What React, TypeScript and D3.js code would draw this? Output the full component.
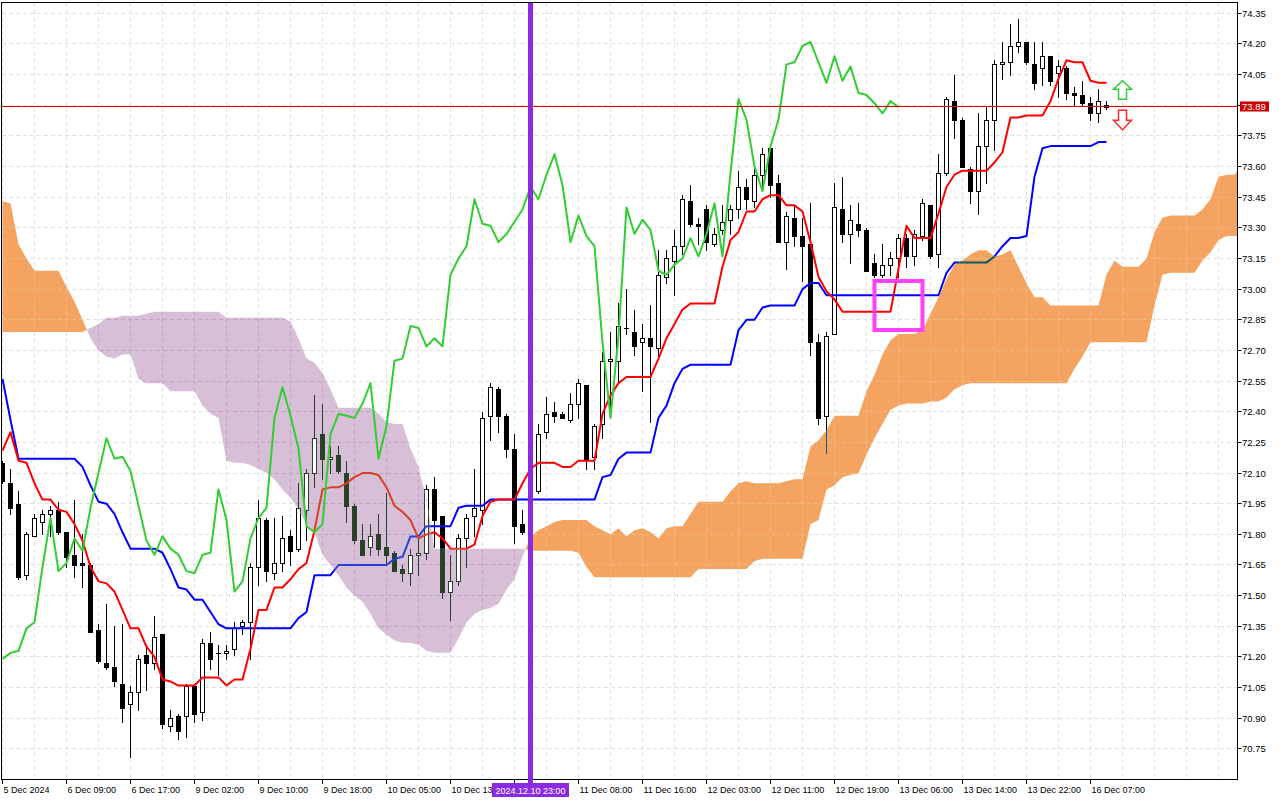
import React from "react";
import * as d3 from "d3";

// ---------- data (hourly bars, index 0 = 5 Dec) ----------
const opens = [
  72.15,72.05,71.95,71.60,71.79,71.86,71.90,71.92,71.81,71.70,
  71.66,71.65,71.33,71.17,71.15,71.07,70.97,71.03,71.21,71.17,
  71.31,70.86,70.91,70.91,71.06,70.93,71.27,71.22,71.22,71.24,
  71.35,71.37,71.64,71.87,71.61,71.66,71.79,71.73,71.92,72.10,
  72.29,72.17,72.19,72.10,71.94,71.77,71.74,71.80,71.74,71.71,
  71.63,71.61,71.70,71.71,72.02,71.89,71.52,71.57,71.78,71.89,
  71.92,72.38,72.51,72.38,72.22,71.85,71.81,72.01,72.30,72.40,
  72.39,72.36,72.44,72.53,72.18,72.34,72.65,72.65,72.81,72.79,
  72.74,72.76,72.71,73.06,73.14,73.21,73.43,73.32,73.39,73.22,
  73.29,73.34,73.39,73.50,73.43,73.56,73.69,73.52,73.23,73.35,
  73.26,73.22,72.74,72.38,72.78,73.39,73.27,73.32,73.29,73.13,
  73.07,73.12,73.15,73.25,73.16,73.26,73.41,73.17,73.57,73.92,
  73.83,73.59,73.48,73.70,73.83,74.10,74.11,74.19,74.21,74.10,
  74.08,74.14,74.06,74.08,73.96,73.95,73.91,73.86,73.90,
];
const highs = [
  72.16,72.12,72.01,71.81,71.90,71.92,71.94,71.96,71.81,71.97,
  71.80,71.66,71.36,71.46,71.35,71.36,71.06,71.21,71.25,71.40,
  71.31,70.94,70.92,71.07,71.07,71.29,71.32,71.26,71.26,71.37,
  71.38,71.66,71.97,71.88,71.88,71.89,71.82,72.05,72.12,72.48,
  72.44,72.23,72.23,72.16,71.95,71.85,71.85,71.90,72.00,71.72,
  71.65,71.73,71.78,72.04,72.08,71.89,71.70,71.80,71.90,72.12,
  72.40,72.54,72.52,72.39,72.29,71.92,71.95,72.34,72.47,72.45,
  72.40,72.49,72.56,72.53,72.34,72.69,72.79,72.93,73.00,72.90,
  72.83,72.92,73.19,73.19,73.29,73.46,73.51,73.35,73.41,73.30,
  73.41,73.41,73.58,73.54,73.61,73.69,73.69,73.56,73.38,73.41,
  73.35,73.42,72.78,72.79,73.52,73.55,73.41,73.42,73.30,73.17,
  73.22,73.18,73.27,73.27,73.29,73.44,73.41,73.66,73.94,74.05,
  73.84,73.60,73.86,73.89,74.12,74.21,74.30,74.32,74.21,74.21,
  74.21,74.14,74.12,74.09,73.99,74.02,73.94,73.98,73.92,
];
const lows = [
  72.05,71.90,71.58,71.58,71.79,71.80,71.79,71.80,71.64,71.59,
  71.54,71.32,71.17,71.14,71.06,70.88,70.71,70.94,71.04,71.14,
  70.85,70.84,70.80,70.81,70.88,70.89,71.14,71.11,71.19,71.21,
  71.31,71.19,71.55,71.57,71.58,71.62,71.65,71.72,71.77,72.03,
  72.07,72.10,72.10,71.86,71.76,71.70,71.70,71.70,71.65,71.62,
  71.57,71.55,71.60,71.68,71.74,71.49,71.38,71.55,71.64,71.79,
  71.85,72.26,72.30,72.18,71.76,71.80,71.78,72.00,72.27,72.35,
  72.37,72.35,72.37,72.12,72.12,72.27,72.38,72.54,72.78,72.68,
  72.50,72.35,72.66,73.03,72.97,73.17,73.31,73.22,73.19,73.21,
  73.27,73.27,73.35,73.39,73.40,73.50,73.45,73.23,73.10,73.21,
  73.04,72.68,72.34,72.20,72.78,73.23,73.13,73.26,73.09,73.06,
  73.06,73.07,73.06,73.11,73.12,73.24,73.15,73.11,73.56,73.74,
  73.60,73.42,73.37,73.52,73.68,74.03,74.05,74.16,74.10,73.98,
  74.00,74.00,73.94,73.93,73.90,73.90,73.83,73.82,73.88,
];
const closes = [
  72.06,71.93,71.59,71.80,71.88,71.90,71.92,71.81,71.69,71.65,
  71.65,71.32,71.18,71.15,71.08,70.95,71.03,71.19,71.17,71.30,
  70.87,70.90,70.84,71.06,70.92,71.27,71.19,71.22,71.23,71.34,
  71.37,71.64,71.88,71.62,71.66,71.78,71.72,71.93,72.10,72.27,
  72.17,72.18,72.11,71.94,71.77,71.70,71.79,71.73,71.70,71.62,
  71.61,71.70,71.71,72.02,71.87,71.52,71.57,71.78,71.88,71.93,
  72.37,72.52,72.38,72.22,71.84,71.81,71.85,72.29,72.39,72.38,
  72.37,72.44,72.54,72.17,72.33,72.65,72.66,72.82,72.81,72.72,
  72.76,72.72,73.07,73.15,73.21,73.44,73.32,73.31,73.23,73.27,
  73.33,73.39,73.50,73.44,73.56,73.66,73.51,73.23,73.36,73.26,
  73.21,72.74,72.37,72.77,73.40,73.27,73.34,73.29,73.09,73.07,
  73.12,73.15,73.25,73.16,73.27,73.42,73.16,73.57,73.93,73.83,
  73.60,73.48,73.70,73.83,74.10,74.11,74.19,74.21,74.11,74.01,
  74.14,74.02,74.09,73.96,73.95,73.91,73.86,73.92,73.89,
];
const tenkan = [
  72.21,72.30,72.16,72.15,72.05,71.97,71.97,71.92,71.91,71.85,
  71.77,71.64,71.57,71.56,71.52,71.43,71.34,71.34,71.25,71.20,
  71.09,71.08,71.06,71.06,71.06,71.10,71.10,71.10,71.06,71.09,
  71.09,71.24,71.43,71.43,71.54,71.54,71.58,71.63,71.66,71.82,
  72.02,72.03,72.03,72.05,72.08,72.10,72.10,72.09,72.03,71.94,
  71.91,71.87,71.78,71.80,71.81,71.78,71.73,71.73,71.73,71.75,
  71.89,71.96,71.97,71.97,71.97,72.05,72.12,72.15,72.15,72.15,
  72.13,72.13,72.16,72.16,72.16,72.39,72.48,72.54,72.57,72.57,
  72.57,72.57,72.66,72.76,72.83,72.90,72.93,72.93,72.93,72.93,
  73.11,73.24,73.28,73.38,73.38,73.44,73.46,73.46,73.41,73.41,
  73.38,73.23,73.06,72.99,72.95,72.89,72.89,72.89,72.89,72.89,
  72.89,72.89,73.10,73.31,73.25,73.25,73.25,73.37,73.50,73.56,
  73.58,73.58,73.58,73.58,73.62,73.67,73.84,73.84,73.85,73.85,
  73.85,73.92,74.03,74.12,74.11,74.11,74.02,74.01,74.01,
];
const kijun = [
  72.56,72.36,72.17,72.17,72.17,72.17,72.17,72.17,72.17,72.17,
  72.13,72.04,71.96,71.95,71.90,71.81,71.73,71.73,71.73,71.73,
  71.71,71.63,71.54,71.53,71.48,71.48,71.42,71.36,71.34,71.34,
  71.34,71.34,71.34,71.34,71.34,71.34,71.34,71.39,71.42,71.60,
  71.60,71.60,71.65,71.65,71.65,71.65,71.65,71.65,71.65,71.68,
  71.69,71.79,71.79,71.84,71.84,71.84,71.84,71.93,71.94,71.94,
  71.94,71.97,71.97,71.97,71.97,71.97,71.97,71.97,71.97,71.97,
  71.97,71.97,71.97,71.97,71.97,72.08,72.09,72.17,72.20,72.20,
  72.20,72.20,72.37,72.43,72.54,72.61,72.63,72.63,72.63,72.63,
  72.63,72.63,72.80,72.85,72.85,72.91,72.92,72.92,72.92,72.92,
  73.00,73.03,73.03,72.97,72.97,72.97,72.97,72.97,72.97,72.97,
  72.97,72.97,72.97,72.97,72.97,72.97,72.97,72.97,73.08,73.13,
  73.13,73.13,73.13,73.13,73.16,73.21,73.25,73.25,73.26,73.55,
  73.69,73.70,73.70,73.70,73.70,73.70,73.70,73.72,73.72,
];
// Senkou spans as plotted (already shifted 26 bars forward)
const spanA = [
  73.43,73.42,73.22,73.15,73.09,73.09,73.09,73.09,73.01,72.94,
  72.85,72.76,72.70,72.67,72.66,72.68,72.68,72.56,72.54,72.54,
  72.54,72.50,72.50,72.50,72.50,72.43,72.39,72.37,72.16,72.15,
  72.15,72.14,72.12,72.10,72.07,72.02,71.98,71.92,71.85,71.81,
  71.70,71.65,71.60,71.54,71.50,71.47,71.41,71.34,71.31,71.28,
  71.27,71.27,71.26,71.23,71.22,71.22,71.22,71.29,71.37,71.41,
  71.43,71.44,71.46,71.53,71.58,71.69,71.79,71.82,71.84,71.86,
  71.87,71.87,71.87,71.87,71.84,71.82,71.80,71.83,71.79,71.82,
  71.83,71.81,71.78,71.83,71.84,71.84,71.90,71.96,71.96,71.96,
  71.96,72.01,72.05,72.06,72.05,72.05,72.05,72.05,72.06,72.07,
  72.07,72.23,72.26,72.31,72.38,72.38,72.38,72.38,72.50,72.58,
  72.68,72.75,72.78,72.78,72.78,72.80,72.88,72.96,73.05,73.12,
  73.14,73.17,73.19,73.19,73.16,73.17,73.19,73.11,73.03,72.96,
  72.96,72.92,72.92,72.92,72.92,72.92,72.92,72.92,73.07,73.14,
  73.11,73.11,73.11,73.15,73.28,73.35,73.36,73.36,73.36,73.36,
  73.39,73.44,73.55,73.56,73.56,73.61,
];
const spanB = [
  72.79,72.79,72.79,72.79,72.79,72.79,72.79,72.79,72.79,72.79,
  72.79,72.81,72.83,72.86,72.86,72.87,72.87,72.87,72.88,72.89,
  72.89,72.89,72.89,72.89,72.89,72.89,72.89,72.89,72.86,72.86,
  72.86,72.86,72.86,72.86,72.86,72.86,72.84,72.76,72.66,72.64,
  72.59,72.51,72.42,72.42,72.42,72.42,72.42,72.39,72.35,72.34,
  72.34,72.22,72.13,71.97,71.73,71.73,71.73,71.73,71.73,71.73,
  71.73,71.73,71.73,71.73,71.73,71.73,71.72,71.72,71.72,71.72,
  71.72,71.72,71.71,71.64,71.59,71.59,71.59,71.59,71.59,71.59,
  71.59,71.59,71.59,71.59,71.59,71.59,71.59,71.63,71.63,71.63,
  71.63,71.63,71.63,71.63,71.67,71.68,71.68,71.68,71.68,71.68,
  71.68,71.85,71.87,72.02,72.04,72.08,72.09,72.10,72.19,72.27,
  72.34,72.41,72.43,72.44,72.44,72.44,72.45,72.45,72.47,72.51,
  72.53,72.54,72.54,72.54,72.54,72.54,72.54,72.54,72.54,72.54,
  72.54,72.54,72.54,72.54,72.61,72.67,72.74,72.74,72.74,72.74,
  72.74,72.74,72.74,72.74,72.92,73.07,73.08,73.08,73.08,73.08,
  73.14,73.18,73.24,73.26,73.26,73.26,
];
const chikouShift = 26;
const timeLabels = [
  "5 Dec 2024","6 Dec 09:00","6 Dec 17:00","9 Dec 02:00","9 Dec 10:00","9 Dec 18:00",
  "10 Dec 05:00","10 Dec 13:00","10 Dec 21:00","11 Dec 08:00","11 Dec 16:00","12 Dec 03:00",
  "12 Dec 11:00","12 Dec 19:00","13 Dec 06:00","13 Dec 14:00","13 Dec 22:00","16 Dec 07:00",
];
const timeLabelStep = 8;
const priceTicks = d3.range(0, 25).map((i) => +(70.75 + i * 0.15).toFixed(2));
const bidPrice = 73.894;
const markerBar = 66;
const markerLabel = "2024.12.10 23:00";
const boxBars = [109, 115];
const boxPrices = [73.04, 72.8];
const arrowBar = 140;
const arrowUpPrice = 74.02;
const arrowDownPrice = 73.78;

// ---------- layout ----------
const W = 1280;
const H = 800;
const L = 2, T = 3, R = 1237, B = 779;
const FONT = "'Liberation Sans', Arial, sans-serif";
const TIME_FS = 9;
const PRICE_FS = 9.5;

const x = d3.scaleLinear().domain([0, 1]).range([2.5, 10.5]);
const y = d3.scaleLinear().domain([70.75, 74.35]).range([748.9, 13.3]);

const UP = "#f4a460";
const DN = "#d8bfd8";
const xorC = (c: string, cloud: string) => {
  const a = d3.rgb(c), b = d3.rgb(cloud);
  return d3.rgb(a.r ^ (255 - b.r), a.g ^ (255 - b.g), a.b ^ (255 - b.b)).formatHex();
};
const base = { grid: "#e0e0e0", ink: "#000000", tenkan: "#ff0000", kijun: "#0000ff" };
const mkPal = (cloud: string | null) => ({
  bg: cloud,
  grid: cloud ? xorC(base.grid, cloud) : base.grid,
  ink: cloud ? xorC(base.ink, cloud) : base.ink,
  tenkan: cloud ? xorC(base.tenkan, cloud) : base.tenkan,
  kijun: cloud ? xorC(base.kijun, cloud) : base.kijun,
  bull: "#ffffff",
});

function cloudPaths() {
  const up: string[] = [], dn: string[] = [];
  type P = { x: number; a: number; b: number };
  const toPath = (pts: P[]) =>
    "M" + pts.map((p) => `${p.x},${y(p.a)}`).join("L") +
    "L" + pts.slice().reverse().map((p) => `${p.x},${y(p.b)}`).join("L") + "Z";
  let sign = spanA[0] >= spanB[0];
  let cur: P[] = [{ x: x(0), a: spanA[0], b: spanB[0] }];
  for (let k = 1; k < spanA.length; k++) {
    const s = spanA[k] >= spanB[k];
    if (s !== sign) {
      const d0 = spanA[k - 1] - spanB[k - 1], d1 = spanA[k] - spanB[k];
      const t = d0 / (d0 - d1);
      const pi = spanA[k - 1] + t * (spanA[k] - spanA[k - 1]);
      const ip = { x: x(k - 1 + t), a: pi, b: pi };
      cur.push(ip);
      (sign ? up : dn).push(toPath(cur));
      cur = [ip];
      sign = s;
    }
    cur.push({ x: x(k), a: spanA[k], b: spanB[k] });
  }
  (sign ? up : dn).push(toPath(cur));
  return { up: up.join(""), dn: dn.join("") };
}
const clouds = cloudPaths();

const lineGen = d3.line<number>().x((_, i) => x(i)).y((d) => y(d));
const chikouGen = d3.line<number>().x((_, i) => x(i)).y((d) => y(d));

const vGrid = d3.range(0, 39).map((m) => x(m * 4));
const hGrid = priceTicks.map((p) => Math.floor(y(p)) + 0.5);

let measureCtx: CanvasRenderingContext2D | null = null;
function textWidth(s: string, fs: number) {
  if (!measureCtx && typeof document !== "undefined") {
    measureCtx = document.createElement("canvas").getContext("2d");
  }
  if (measureCtx) {
    measureCtx.font = `${fs}px 'Liberation Sans', Arial, sans-serif`;
    return measureCtx.measureText(s).width;
  }
  return s.length * fs * 0.55;
}

function Layer({ pal }: { pal: ReturnType<typeof mkPal> }) {
  return (
    <g>
      {pal.bg && <rect x={0} y={0} width={W} height={H} fill={pal.bg} />}
      <g stroke={pal.grid} strokeWidth={1} strokeDasharray="4,3" shapeRendering="crispEdges">
        {vGrid.map((gx, i) => (
          <line key={"v" + i} x1={gx} x2={gx} y1={T} y2={B} />
        ))}
        {hGrid.map((gy, i) => (
          <line key={"h" + i} x1={L} x2={R} y1={gy} y2={gy} />
        ))}
      </g>
      <g>
        {opens.map((o, k) => {
          const cx = x(k);
          const c = closes[k];
          const top = Math.round(y(Math.max(o, c)));
          const bot = Math.round(y(Math.min(o, c)));
          const bull = c >= o;
          return (
            <g key={k}>
              <line x1={cx} x2={cx} y1={Math.round(y(highs[k]))} y2={Math.round(y(lows[k])) + 1} stroke={pal.ink} strokeWidth={1} />
              {bot - top < 1 ? (
                <line x1={cx - 2.5} x2={cx + 2.5} y1={top + 0.5} y2={top + 0.5} stroke={pal.ink} strokeWidth={1} />
              ) : (
                <rect x={cx - 2} y={top + 0.5} width={4} height={bot - top} fill={bull ? pal.bull : pal.ink} stroke={pal.ink} strokeWidth={1} />
              )}
            </g>
          );
        })}
      </g>
      <path d={lineGen(kijun) || ""} fill="none" stroke={pal.kijun} strokeWidth={2} strokeLinejoin="round" />
      <path d={lineGen(tenkan) || ""} fill="none" stroke={pal.tenkan} strokeWidth={2} strokeLinejoin="round" />
    </g>
  );
}

export default function App() {
  const last = closes[closes.length - 1];
  const yLast = Math.round(y(bidPrice)) + 0.5;
  const ax = x(arrowBar);
  const yu = y(arrowUpPrice);
  const yd = y(arrowDownPrice);
  const upArrow = `M${ax},${yu} L${ax + 9},${yu + 8.6} L${ax + 4},${yu + 8.6} L${ax + 4},${yu + 18.6} L${ax - 4},${yu + 18.6} L${ax - 4},${yu + 8.6} L${ax - 9},${yu + 8.6} Z`;
  const dnArrow = `M${ax},${yd} L${ax + 9},${yd - 9.4} L${ax + 4},${yd - 9.4} L${ax + 4},${yd - 19.4} L${ax - 4},${yd - 19.4} L${ax - 4},${yd - 9.4} L${ax - 9},${yd - 9.4} Z`;
  const mx = x(markerBar);
  const mBoxL = mx - 38.5;
  const mBoxR = mx + 38.5;
  const markerTextL = mx - textWidth(markerLabel, TIME_FS) / 2;

  // time labels: those fully under the marker box are hidden; the one running into it is cut at its edge
  const timeItems = timeLabels.map((t, i) => {
    const tx = x(i * timeLabelStep);
    const start = tx + 1;
    let s = t;
    if (start >= mBoxL - 2 && start <= mBoxR) s = "";
    else if (start < mBoxL && start + textWidth(s, TIME_FS) > mBoxL) {
      while (s.length && start + textWidth(s, TIME_FS) > Math.min(mBoxL + 1, markerTextL - 1)) {
        s = s.slice(0, -1);
      }
    }
    return { tx, start, s: s.trimEnd() };
  });

  return (
    <svg width={W} height={H} style={{ position: "fixed", left: 0, top: 0, background: "#fff" }} fontFamily={FONT}>
      <defs>
        <clipPath id="plotClip">
          <rect x={L} y={T} width={R - L} height={B - T} />
        </clipPath>
        <clipPath id="cloudUp">
          <path d={clouds.up} />
        </clipPath>
        <clipPath id="cloudDn">
          <path d={clouds.dn} />
        </clipPath>
      </defs>
      <rect x={0} y={0} width={W} height={H} fill="#fff" />
      <g clipPath="url(#plotClip)">
        <Layer pal={mkPal(null)} />
        <g clipPath="url(#cloudDn)">
          <Layer pal={mkPal(DN)} />
        </g>
        <g clipPath="url(#cloudUp)">
          <Layer pal={mkPal(UP)} />
        </g>
        <path
          d={chikouGen(closes.slice(chikouShift)) || ""}
          fill="none"
          stroke="#32cd32"
          strokeWidth={2}
          strokeLinejoin="round"
        />
        <line x1={L} x2={R} y1={yLast} y2={yLast} stroke="#e00000" strokeWidth={1} shapeRendering="crispEdges" />
        <rect
          x={x(boxBars[0])}
          y={y(boxPrices[0])}
          width={x(boxBars[1]) - x(boxBars[0])}
          height={y(boxPrices[1]) - y(boxPrices[0])}
          fill="none"
          stroke="#ff40ff"
          strokeWidth={4}
        />
        <path d={upArrow} fill="#fff" stroke="#2ecc2e" strokeWidth={1.5} strokeLinejoin="miter" />
        <path d={dnArrow} fill="#fff" stroke="#ff2a2a" strokeWidth={1.5} strokeLinejoin="miter" />
        <line x1={mx} x2={mx} y1={T} y2={B} stroke="#8a2be2" strokeWidth={5} />
      </g>
      {/* frame */}
      <rect x={1.5} y={2.5} width={R - 1} height={B - 2} fill="none" stroke="#000" strokeWidth={1} shapeRendering="crispEdges" />
      {/* price axis */}
      <g fontSize={PRICE_FS} fill="#000">
        {priceTicks.map((p, i) => {
          const ty = Math.floor(y(p)) + 0.5;
          return (
            <g key={i}>
              <line x1={R + 0.5} x2={R + 4.5} y1={ty} y2={ty} stroke="#000" strokeWidth={1} />
              <text x={R + 5} y={ty} dominantBaseline="central">
                {p.toFixed(2)}
              </text>
            </g>
          );
        })}
      </g>
      <rect x={1240} y={yLast - 5} width={29} height={10} fill="#cc0000" />
      <text x={1242} y={yLast} dominantBaseline="central" fontSize={PRICE_FS} fill="#fff">
        {last.toFixed(2)}
      </text>
      {/* time axis */}
      <g fontSize={TIME_FS} fill="#000">
        {timeItems.map((it, i) => (
          <g key={i}>
            <line x1={it.tx} x2={it.tx} y1={B} y2={B + 5} stroke="#000" strokeWidth={1} />
            {it.s && (
              <text x={it.start} y={793}>
                {it.s}
              </text>
            )}
          </g>
        ))}
      </g>
      <line x1={mx} x2={mx} y1={B} y2={B + 5} stroke="#8a2be2" strokeWidth={5} />
      <rect x={mBoxL} y={783} width={mBoxR - mBoxL} height={14} fill="#8a2be2" />
      <text x={mx} y={793.5} textAnchor="middle" fontSize={TIME_FS} fill="#fff">
        {markerLabel}
      </text>
    </svg>
  );
}
